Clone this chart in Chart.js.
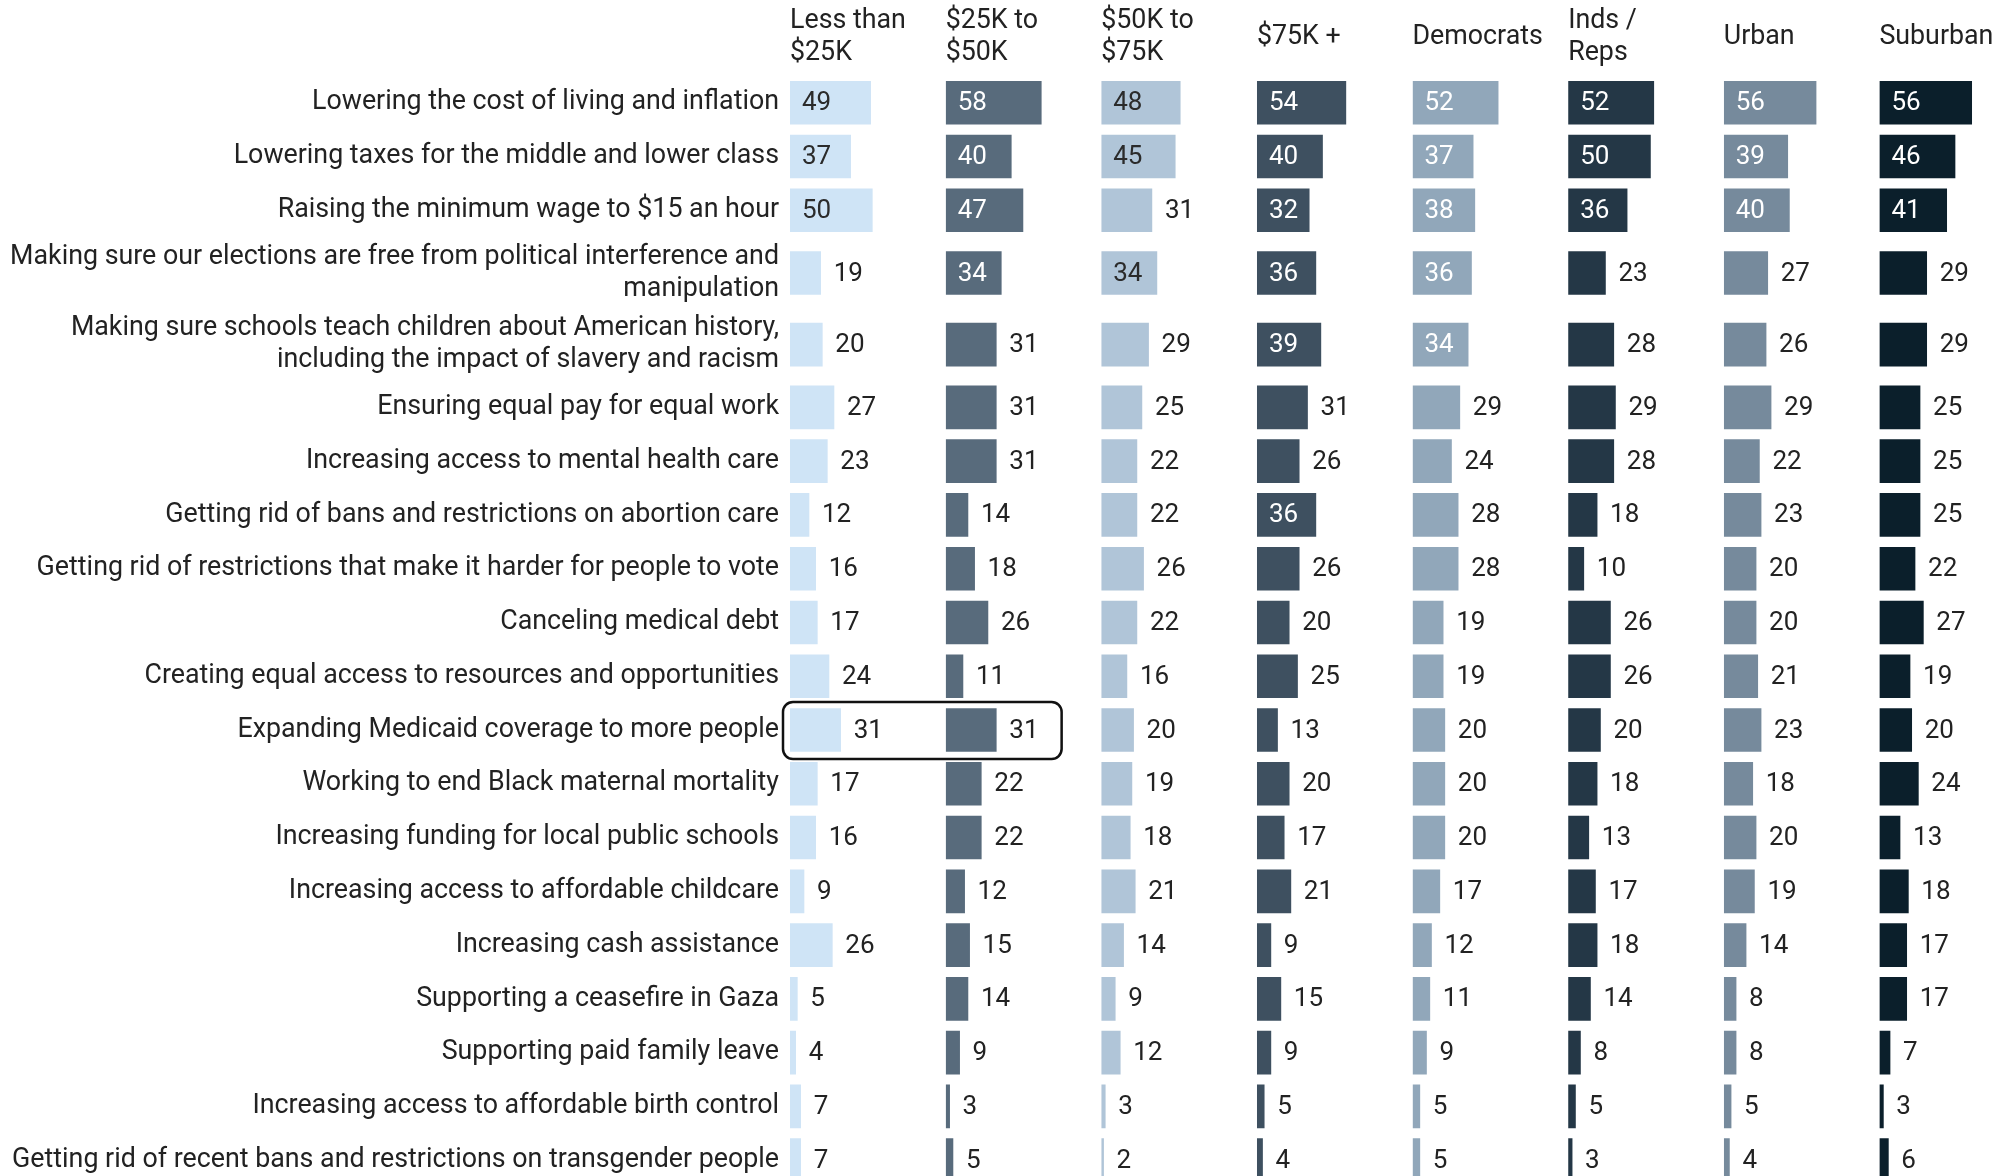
<!DOCTYPE html>
<html>
<head>
<meta charset="utf-8">
<script src="https://cdn.jsdelivr.net/npm/chart.js@4.4.1/dist/chart.umd.min.js"></script>
<style>
  html, body { margin: 0; padding: 0; background: #fff; overflow: hidden; }
  #wrap { width: 2035px; height: 1187px; }
</style>
</head>
<body>
<div id="wrap"><canvas id="priorities" width="2035" height="1187"></canvas></div>
<script>
// issue labels (arrays = two line labels)
var issues = [
  'Lowering the cost of living and inflation',
  'Lowering taxes for the middle and lower class',
  'Raising the minimum wage to $15 an hour',
  ['Making sure our elections are free from political interference and', 'manipulation'],
  ['Making sure schools teach children about American history,', 'including the impact of slavery and racism'],
  'Ensuring equal pay for equal work',
  'Increasing access to mental health care',
  'Getting rid of bans and restrictions on abortion care',
  'Getting rid of restrictions that make it harder for people to vote',
  'Canceling medical debt',
  'Creating equal access to resources and opportunities',
  'Expanding Medicaid coverage to more people',
  'Working to end Black maternal mortality',
  'Increasing funding for local public schools',
  'Increasing access to affordable childcare',
  'Increasing cash assistance',
  'Supporting a ceasefire in Gaza',
  'Supporting paid family leave',
  'Increasing access to affordable birth control',
  'Getting rid of recent bans and restrictions on transgender people'
];

var columns = [['Less than', '$25K'], ['$25K to', '$50K'], ['$50K to', '$75K'], '$75K +', 'Democrats', ['Inds /', 'Reps'], 'Urban', 'Suburban'];

var lessThan25k = [49, 37, 50, 19, 20, 27, 23, 12, 16, 17, 24, 31, 17, 16, 9, 26, 5, 4, 7, 7];
var from25kTo50k = [58, 40, 47, 34, 31, 31, 31, 14, 18, 26, 11, 31, 22, 22, 12, 15, 14, 9, 3, 5];
var from50kTo75k = [48, 45, 31, 34, 29, 25, 22, 22, 26, 22, 16, 20, 19, 18, 21, 14, 9, 12, 3, 2];
var over75k = [54, 40, 32, 36, 39, 31, 26, 36, 26, 20, 25, 13, 20, 17, 21, 9, 15, 9, 5, 4];
var democrats = [52, 37, 38, 36, 34, 29, 24, 28, 28, 19, 19, 20, 20, 20, 17, 12, 11, 9, 5, 5];
var indsReps = [52, 50, 36, 23, 28, 29, 28, 18, 10, 26, 26, 20, 18, 13, 17, 18, 14, 8, 5, 3];
var urban = [56, 39, 40, 27, 26, 29, 22, 23, 20, 20, 21, 23, 18, 20, 19, 14, 8, 8, 5, 4];
var suburban = [56, 46, 41, 29, 29, 25, 25, 25, 22, 27, 19, 20, 24, 13, 18, 17, 17, 7, 3, 6];

var series = [lessThan25k, from25kTo50k, from50kTo75k, over75k, democrats, indsReps, urban, suburban];
var barColors = ['#cfe4f6', '#586b7c', '#b0c5d8', '#3e5060', '#91a7ba', '#243746', '#768a9c', '#0b1f2b'];
var insideTextColors = ['#2b2b2b', '#ffffff', '#2b2b2b', '#ffffff', '#ffffff', '#ffffff', '#ffffff', '#ffffff'];
var insideMin = 32;      // values from here on get their label inside the bar
var highlightRow = 11;   // Expanding Medicaid row, boxed for the first two columns
var columnMax = 93.4;

// row positions: two line labels take a bit more room
var rowPos = [];
var total = 0;
issues.forEach(function (label) {
  var h = 1 + ([].concat(label).length - 1) / 3;
  rowPos.push(total + h / 2);
  total += h;
});

var font = { family: 'Roboto', size: 26.8, lineHeight: 1.19 };

// top boxes are laid out in reverse order, so add the last column first
var scales = {};
for (var c = columns.length - 1; c >= 0; c--) {
  var lines = [].concat(columns[c]);
  var extra = (2 - lines.length) * 15.9;
  scales['x' + c] = {
    type: 'linear',
    position: 'top',
    stack: 'columns',
    stackWeight: 1,
    min: 0,
    max: columnMax,
    grid: { display: false, drawTicks: false },
    border: { display: false },
    ticks: { display: false },
    title: {
      display: true,
      text: lines,
      align: 'start',
      color: '#222',
      font: font,
      padding: { top: 5.5 + extra, bottom: 6.6 + extra }
    }
  };
}
scales.y = {
  type: 'linear',
  position: 'left',
  reverse: true,
  offset: false,
  min: 0,
  max: total,
  grid: { display: false, drawTicks: false },
  border: { display: false },
  afterBuildTicks: function (scale) {
    scale.ticks = rowPos.map(function (v) { return { value: v }; });
  },
  afterFit: function (scale) {
    scale.width = 790;
    scale.paddingTop = 0;
    scale.paddingBottom = 0;
  },
  ticks: {
    autoSkip: false,
    padding: 11,
    color: '#222',
    font: font,
    callback: function (v, i) { return issues[i]; }
  }
};

var valueLabels = {
  id: 'valueLabels',
  afterDatasetsDraw: function (chart) {
    var ctx = chart.ctx;
    ctx.save();
    ctx.font = '26px Roboto';
    ctx.textBaseline = 'middle';
    ctx.textAlign = 'left';
    chart.data.datasets.forEach(function (ds, di) {
      chart.getDatasetMeta(di).data.forEach(function (bar, i) {
        var v = series[di][i];
        var inside = v >= insideMin;
        ctx.fillStyle = inside ? insideTextColors[di] : '#222';
        ctx.fillText(String(v), inside ? bar.base + 12 : bar.x + 12, bar.y + 1);
      });
    });
    ctx.restore();
  }
};

var highlightBox = {
  id: 'highlightBox',
  afterDraw: function (chart) {
    var ctx = chart.ctx;
    var yc = chart.scales.y.getPixelForValue(rowPos[highlightRow]);
    var left = chart.scales.x0.left - 7;
    var right = chart.scales.x1.left + 116;
    ctx.save();
    ctx.strokeStyle = '#111';
    ctx.lineWidth = 2.5;
    ctx.beginPath();
    ctx.roundRect(left, yc - 28, right - left, 57, 10);
    ctx.stroke();
    ctx.restore();
  }
};

var ctx = document.getElementById('priorities').getContext('2d');
var chart = new Chart(ctx, {
  type: 'bar',
  data: {
    datasets: series.map(function (vals, c) {
      return {
        data: vals.map(function (v, i) { return { x: v, y: rowPos[i] }; }),
        xAxisID: 'x' + c,
        yAxisID: 'y',
        backgroundColor: barColors[c],
        borderColor: 'rgba(255,255,255,0.4)',
        borderWidth: 1,
        barThickness: 45,
        grouped: false
      };
    })
  },
  options: {
    indexAxis: 'y',
    responsive: false,
    animation: false,
    devicePixelRatio: 1,
    layout: { padding: 0 },
    scales: scales,
    plugins: {
      legend: { display: false },
      tooltip: { enabled: false }
    }
  },
  plugins: [valueLabels, highlightBox]
});
</script>
</body>
</html>
